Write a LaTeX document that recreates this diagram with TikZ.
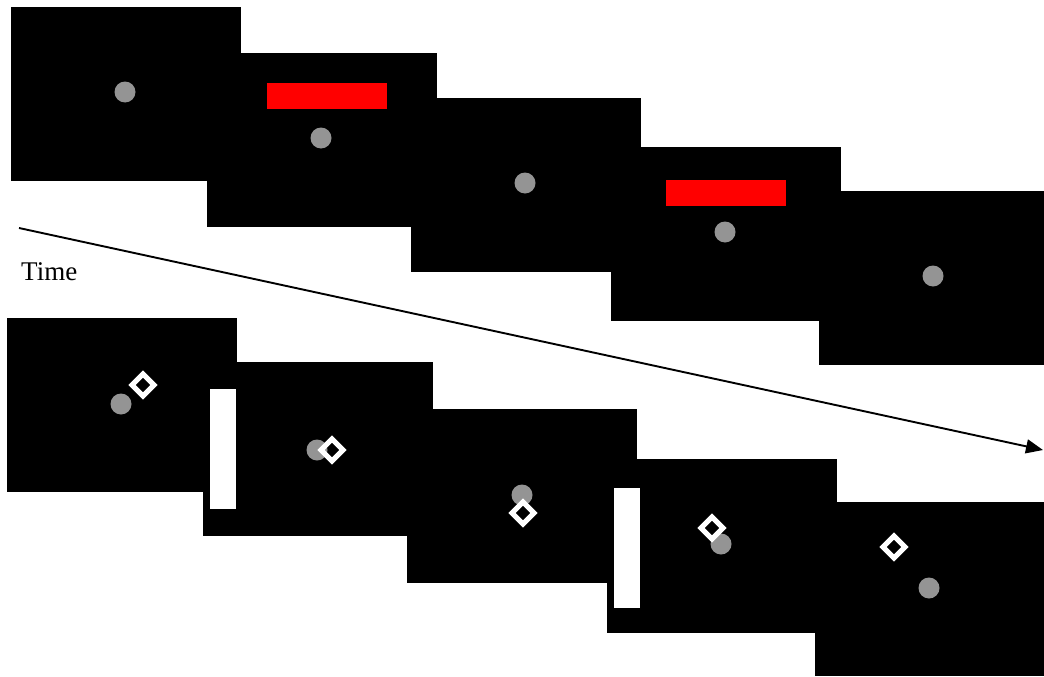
\documentclass[tikz,border=0pt]{standalone}
\usepackage{fontspec}
\setmainfont{Liberation Serif}
\usetikzlibrary{arrows.meta}
\definecolor{dotgray}{RGB}{148,148,148}
\definecolor{barred}{RGB}{255,0,0}
\begin{document}
\begin{tikzpicture}[x=1pt,y=-1pt,
  frame/.style={fill=black,draw=none,anchor=north west,minimum width=230pt,minimum height=174pt,inner sep=0pt,outer sep=0pt},
  dot/.style={circle,fill=dotgray,draw=none,minimum size=21pt,inner sep=0pt},
  cue/.style={fill=barred,draw=none,anchor=north west,minimum width=120pt,minimum height=26pt,inner sep=0pt},
  wbar/.style={fill=white,draw=none,anchor=north west,minimum width=26pt,minimum height=120pt,inner sep=0pt},
  diam/.style={white,line width=5pt,line join=miter}]
\useasboundingbox (0,0) rectangle (1044,677);
\clip (0,0) rectangle (1044,677);
% top row
\node[frame] (t1) at (11,7) {};
\node[dot] (t1d) at (125,92) {};
\node[frame] (t2) at (207,53) {};
\node[cue] (t2c) at (267,83) {};
\node[dot] (t2d) at (321,138) {};
\node[frame] (t3) at (411,98) {};
\node[dot] (t3d) at (525,183) {};
\node[frame] (t4) at (611,147) {};
\node[cue] (t4c) at (666,180) {};
\node[dot] (t4d) at (725,232) {};
\node[frame] (t5) at (819,191) {};
\node[dot] (t5d) at (933,276) {};
% bottom row
\node[frame] (b1) at (7,318) {};
\node[dot] (b1d) at (121,404) {};
\coordinate (b1q) at (143,385);
\node[frame] (b2) at (203,362) {};
\node[dot] (b2d) at (317,450) {};
\coordinate (b2q) at (332,450);
\node[wbar] (w1) at (210,389) {};
\node[frame] (b3) at (407,409) {};
\node[dot] (b3d) at (522,495) {};
\coordinate (b3q) at (523,513);
\node[frame] (b4) at (607,459) {};
\node[dot] (b4d) at (721,544) {};
\coordinate (b4q) at (712,528);
\node[wbar] (w2) at (614,488) {};
\node[frame] (b5) at (815,502) {};
\node[dot] (b5d) at (929,588) {};
\coordinate (b5q) at (894,547);
\foreach \q in {b1q,b2q,b3q,b4q,b5q}{
  \draw[diam] (\q) +(0,-11) -- +(11,0) -- +(0,11) -- +(-11,0) -- cycle;
}
% time arrow
\coordinate (as) at (19,228);
\coordinate (ae) at (1043,450);
\draw[line width=1.9pt,-{Triangle[length=17pt,width=14pt]}] (as) -- (ae);
\node[anchor=base west,font=\fontsize{27}{30}\selectfont,inner sep=0pt] (time) at (21,280) {Time};
\end{tikzpicture}
\end{document}
